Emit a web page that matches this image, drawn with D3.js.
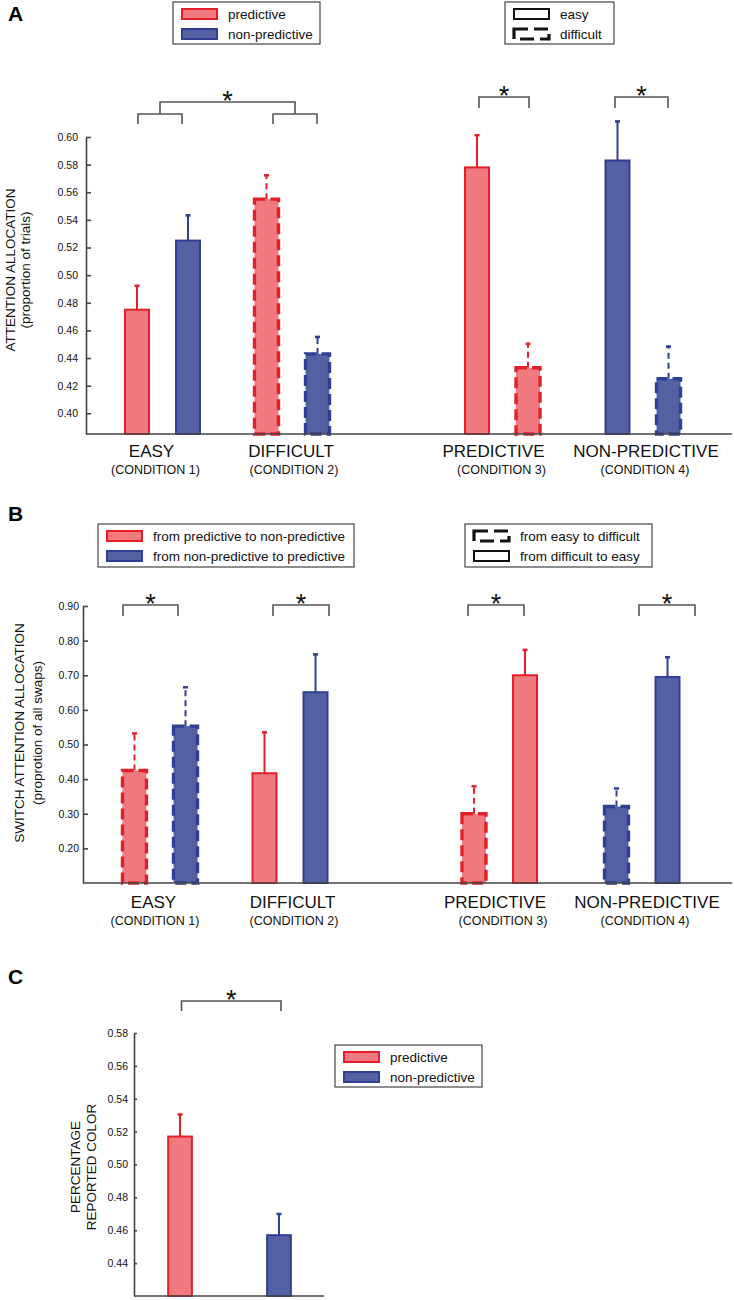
<!DOCTYPE html>
<html>
<head>
<meta charset="utf-8">
<script src="https://cdn.jsdelivr.net/npm/d3@7"></script>
<style>
    body { margin: 0; background: #fff; }
    svg { display: block; font-family: "Liberation Sans", Arial, sans-serif; }
    .axis path, .axis line { stroke: #444; stroke-width: 1.6; }
    .axis text { font-size: 10.5px; fill: #111; font-family: "Liberation Sans", Arial, sans-serif; }
</style>
</head>
<body>
<svg id="chart" width="734" height="1300"></svg>
<script>
// ---- data: panel A (attention allocation) ----
const aCategories = ['EASY', 'DIFFICULT', 'PREDICTIVE', 'NON-PREDICTIVE'];
const aConditions = ['(CONDITION 1)', '(CONDITION 2)', '(CONDITION 3)', '(CONDITION 4)'];
const aMeans = [[0.475, 0.525], [0.555, 0.443], [0.578, 0.433], [0.583, 0.425]];
const aErrors = [[0.018, 0.019], [0.018, 0.013], [0.024, 0.018], [0.029, 0.024]];
const aKinds = [['pred', 'non'], ['pred', 'non'], ['pred', 'pred'], ['non', 'non']];
const aDashed = [[false, false], [true, true], [false, true], [false, true]];
const aTicks = [0.40, 0.42, 0.44, 0.46, 0.48, 0.50, 0.52, 0.54, 0.56, 0.58, 0.60];

// ---- data: panel B (switch attention allocation) ----
const bCategories = ['EASY', 'DIFFICULT', 'PREDICTIVE', 'NON-PREDICTIVE'];
const bConditions = ['(CONDITION 1)', '(CONDITION 2)', '(CONDITION 3)', '(CONDITION 4)'];
const bMeans = [[0.425, 0.553], [0.417, 0.651], [0.300, 0.700], [0.321, 0.695]];
const bErrors = [[0.110, 0.115], [0.121, 0.112], [0.082, 0.076], [0.055, 0.060]];
const bKinds = [['pred', 'non'], ['pred', 'non'], ['pred', 'pred'], ['non', 'non']];
const bDashed = [[true, true], [false, false], [true, false], [true, false]];
const bTicks = [0.20, 0.30, 0.40, 0.50, 0.60, 0.70, 0.80, 0.90];

// ---- data: panel C (percentage reported color) ----
const cCategories = ['predictive', 'non-predictive'];
const cMeans = [0.517, 0.457];
const cErrors = [0.014, 0.0135];
const cTicks = [0.44, 0.46, 0.48, 0.50, 0.52, 0.54, 0.56, 0.58];

const colors = {
    pred: { fill: '#f07a80', stroke: '#e3202a' },
    non: { fill: '#5360a1', stroke: '#2f3f95' },
    easy: { fill: 'none', stroke: '#111' },
    diff: { fill: 'none', stroke: '#111' }
};

const svg = d3.select('#chart');
const fmt = d3.format('.2f');

function panelLetter(letter, y) {
    svg.append('text')
        .attr('x', 8).attr('y', y)
        .attr('font-size', 21).attr('font-weight', 'bold')
        .text(letter);
}

function yLabel(lines, xs, cy, size) {
    lines.forEach((line, i) => {
        svg.append('text')
            .attr('transform', `translate(${xs[i]},${cy}) rotate(-90)`)
            .attr('text-anchor', 'middle')
            .attr('font-size', size)
            .attr('fill', '#111')
            .text(line);
    });
}

function legend(x, y, w, h, items) {
    const g = svg.append('g').attr('transform', `translate(${x},${y})`);
    g.append('rect')
        .attr('width', w).attr('height', h)
        .attr('fill', '#fff').attr('stroke', '#444').attr('stroke-width', 1.2);
    items.forEach((it, i) => {
        const cy = 12 + i * 20;
        const c = colors[it.kind];
        g.append('rect')
            .attr('x', 9).attr('y', cy - 5)
            .attr('width', 35).attr('height', 10)
            .attr('fill', c.fill).attr('stroke', c.stroke)
            .attr('stroke-width', it.dashed ? 3.2 : 2)
            .attr('stroke-dasharray', it.dashed ? '14,6' : null);
        g.append('text')
            .attr('x', 55).attr('y', cy)
            .attr('dy', '0.36em')
            .attr('font-size', 13.5)
            .attr('fill', '#111')
            .text(it.label);
    });
}

function bracket(x1, x2, top, bot, star) {
    svg.append('path')
        .attr('d', `M${x1},${bot}V${top}H${x2}V${bot}`)
        .attr('fill', 'none').attr('stroke', '#555').attr('stroke-width', 1.6);
    if (star) {
        svg.append('text')
            .attr('x', (x1 + x2) / 2).attr('y', top + 8)
            .attr('text-anchor', 'middle')
            .attr('font-size', 27)
            .attr('fill', '#111')
            .text('*');
    }
}

function drawBar(g, bx, bw, yTop, yBase, d) {
    const c = colors[d.kind];
    const cx = bx + bw / 2;
    const yErr = d.y(d.mean + d.err);
    // error bar
    g.append('line')
        .attr('x1', cx).attr('x2', cx)
        .attr('y1', yTop).attr('y2', yErr)
        .attr('stroke', c.stroke).attr('stroke-width', 2)
        .attr('stroke-dasharray', d.dashed ? '6,4' : null);
    g.append('line')
        .attr('x1', cx - 2.5).attr('x2', cx + 2.5)
        .attr('y1', yErr + 1).attr('y2', yErr + 1)
        .attr('stroke', c.stroke).attr('stroke-width', 2.5);
    g.append('rect')
        .attr('x', bx).attr('y', yTop)
        .attr('width', bw).attr('height', yBase - yTop)
        .attr('fill', c.fill).attr('stroke', c.stroke)
        .attr('stroke-width', d.dashed ? 3.4 : 2)
        .attr('stroke-dasharray', d.dashed ? '11,5' : null);
}

function groupedPanel(o) {
    const y = d3.scaleLinear().domain(o.yDomain).range(o.yRange);
    const x = d3.scaleOrdinal().domain(o.categories).range(o.groupX);
    const x1 = d3.scaleBand().domain([0, 1]).range([-37.5, 37.5]).paddingInner(0.53);
    const yBase = y(o.yDomain[0]);

    const bars = o.categories.flatMap((cat, i) => [0, 1].map(j => ({
        cat, j, y,
        mean: o.means[i][j], err: o.errors[i][j],
        kind: o.kinds[i][j], dashed: o.dashed[i][j]
    })));

    const barG = svg.append('g');
    bars.forEach(d => drawBar(barG, x(d.cat) + x1(d.j), x1.bandwidth(), y(d.mean), yBase, d));

    // axes
    svg.append('g')
        .attr('class', 'axis')
        .attr('transform', `translate(${o.axisX},0)`)
        .call(d3.axisLeft(y).tickValues(o.ticks).tickFormat(fmt)
            .tickSizeInner(-5).tickSizeOuter(0).tickPadding(o.tickPadding));
    svg.append('line')
        .attr('x1', o.axisX).attr('x2', o.axisEnd)
        .attr('y1', yBase).attr('y2', yBase)
        .attr('stroke', '#444').attr('stroke-width', 1.6);

    // category labels
    o.categories.forEach((cat, i) => {
        svg.append('text')
            .attr('x', x(cat) + o.labelDx[i]).attr('y', o.labelY)
            .attr('text-anchor', 'middle').attr('font-size', 17).attr('fill', '#111')
            .text(cat);
        svg.append('text')
            .attr('x', x(cat) + o.condDx[i]).attr('y', o.labelY + 17)
            .attr('text-anchor', 'middle').attr('font-size', 12.5).attr('fill', '#111')
            .text(o.conditions[i]);
    });

    return x;
}

// ---- panel A ----
panelLetter('A', 21);
const xA = groupedPanel({
    categories: aCategories, conditions: aConditions,
    means: aMeans, errors: aErrors, kinds: aKinds, dashed: aDashed, ticks: aTicks,
    yDomain: [0.385, 0.60], yRange: [434, 137],
    axisX: 86, axisEnd: 732, tickPadding: 8,
    groupX: [162.5, 292, 502.5, 643],
    labelDx: [-11, -1, -9, 3], condDx: [-7, 2, -1, 2], labelY: 457
});
bracket(xA(aCategories[0]) - 24.5, xA(aCategories[0]) + 19.5, 114, 124, false);
bracket(xA(aCategories[1]) - 19, xA(aCategories[1]) + 25, 114, 124, false);
bracket(xA(aCategories[0]) - 2.5, xA(aCategories[1]) + 3, 102, 114, true);
bracket(xA(aCategories[2]) - 23.5, xA(aCategories[2]) + 26.5, 97, 108, true);
bracket(xA(aCategories[3]) - 28, xA(aCategories[3]) + 25, 97, 108, true);
yLabel(['ATTENTION ALLOCATION', '(proportion of trials)'], [15, 29.5], 270, 13.5);
legend(173, 2, 147, 42, [
    { kind: 'pred', label: 'predictive' },
    { kind: 'non', label: 'non-predictive' }
]);
legend(505, 2, 109, 42, [
    { kind: 'easy', label: 'easy' },
    { kind: 'diff', dashed: true, label: 'difficult' }
]);

// ---- panel B ----
panelLetter('B', 521);
const xB = groupedPanel({
    categories: bCategories, conditions: bConditions,
    means: bMeans, errors: bErrors, kinds: bKinds, dashed: bDashed, ticks: bTicks,
    yDomain: [0.10, 0.90], yRange: [883, 606],
    axisX: 83, axisEnd: 732, tickPadding: 4,
    groupX: [160, 290, 499.5, 642],
    labelDx: [-6.5, 2.5, -4.5, 5], condDx: [-5, 4, 3.5, 3], labelY: 908
});
bracket(xB(bCategories[0]) - 37, xB(bCategories[0]) + 18, 605, 616, true);
bracket(xB(bCategories[1]) - 17, xB(bCategories[1]) + 39, 605, 616, true);
bracket(xB(bCategories[2]) - 31.5, xB(bCategories[2]) + 24.5, 605, 616, true);
bracket(xB(bCategories[3]) - 3, xB(bCategories[3]) + 53, 605, 616, true);
yLabel(['SWITCH ATTENTION ALLOCATION', '(proprotion of all swaps)'], [23.5, 42], 733, 13.5);
legend(98, 524, 256, 43, [
    { kind: 'pred', label: 'from predictive to non-predictive' },
    { kind: 'non', label: 'from non-predictive to predictive' }
]);
legend(465, 524, 187, 43, [
    { kind: 'diff', dashed: true, label: 'from easy to difficult' },
    { kind: 'easy', label: 'from difficult to easy' }
]);

// ---- panel C ----
panelLetter('C', 984);
const yC = d3.scaleLinear().domain([0.42, 0.58]).range([1296, 1033]);
const xC = d3.scaleBand().domain(cCategories).range([134, 325])
    .paddingInner(0.76).paddingOuter(0.345);
const cBase = yC(0.42);
const cG = svg.append('g');
cCategories.forEach((cat, i) => {
    drawBar(cG, xC(cat), xC.bandwidth(), yC(cMeans[i]), cBase, {
        y: yC, mean: cMeans[i], err: cErrors[i],
        kind: i === 0 ? 'pred' : 'non', dashed: false
    });
});
svg.append('g')
    .attr('class', 'axis')
    .attr('transform', 'translate(134,0)')
    .call(d3.axisLeft(yC).tickValues(cTicks).tickFormat(fmt)
        .tickSizeInner(-3).tickSizeOuter(0).tickPadding(6));
svg.append('line')
    .attr('x1', 134).attr('x2', 324)
    .attr('y1', cBase).attr('y2', cBase)
    .attr('stroke', '#444').attr('stroke-width', 1.6);
const cMid = cat => xC(cat) + xC.bandwidth() / 2;
bracket(cMid(cCategories[0]) + 1.5, cMid(cCategories[1]) + 2, 1001, 1011, true);
yLabel(['PERCENTAGE', 'REPORTED COLOR'], [80, 96], 1167, 13.5);
legend(335, 1045, 147, 42, [
    { kind: 'pred', label: 'predictive' },
    { kind: 'non', label: 'non-predictive' }
]);
</script>
</body>
</html>
